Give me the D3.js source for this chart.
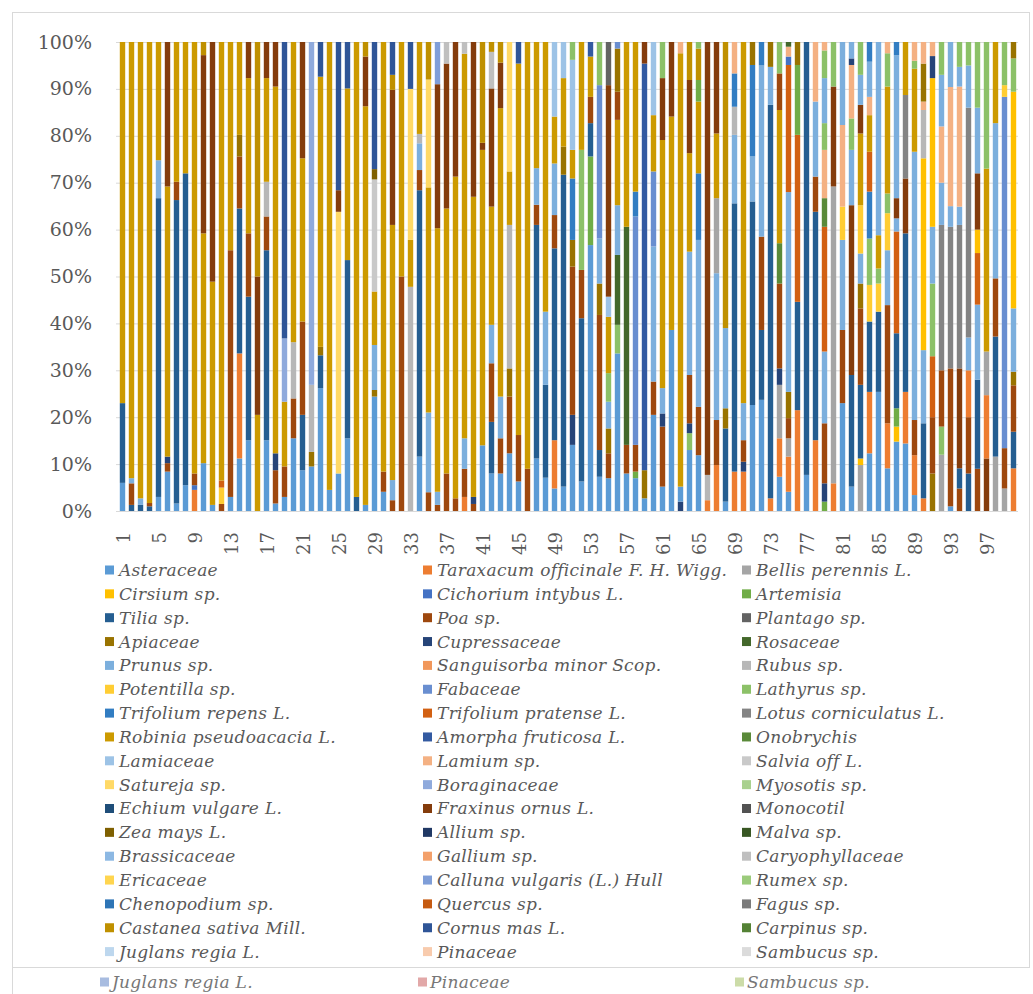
<!DOCTYPE html>
<html>
<head>
<meta charset="utf-8">
<script src="https://cdn.jsdelivr.net/npm/d3@7"></script>
<style>
  body { margin: 0; background: #fff; }
  svg { display: block; }
</style>
</head>
<body>
<svg id="chart" width="1033" height="994"></svg>
<script>
// series, in legend order (index used in the bar stacks below)
const seriesNames = [
  "Asteraceae", "Taraxacum officinale F. H. Wigg.", "Bellis perennis L.",
  "Cirsium sp.", "Cichorium intybus L.", "Artemisia",
  "Tilia sp.", "Poa sp.", "Plantago sp.",
  "Apiaceae", "Cupressaceae", "Rosaceae",
  "Prunus sp.", "Sanguisorba minor Scop.", "Rubus sp.",
  "Potentilla sp.", "Fabaceae", "Lathyrus sp.",
  "Trifolium repens L.", "Trifolium pratense L.", "Lotus corniculatus L.",
  "Robinia pseudoacacia L.", "Amorpha fruticosa L.", "Onobrychis",
  "Lamiaceae", "Lamium sp.", "Salvia off L.",
  "Satureja sp.", "Boraginaceae", "Myosotis sp.",
  "Echium vulgare L.", "Fraxinus ornus L.", "Monocotil",
  "Zea mays L.", "Allium sp.", "Malva sp.",
  "Brassicaceae", "Gallium sp.", "Caryophyllaceae",
  "Ericaceae", "Calluna vulgaris (L.) Hull", "Rumex sp.",
  "Chenopodium sp.", "Quercus sp.", "Fagus sp.",
  "Castanea sativa Mill.", "Cornus mas L.", "Carpinus sp.",
  "Juglans regia L.", "Pinaceae", "Sambucus sp."
];

const seriesColors = [
  "#5B9BD5", "#ED7D31", "#A5A5A5", "#FFC000", "#4472C4", "#70AD47",
  "#255E91", "#9E480E", "#636363", "#997300", "#264478", "#43682B",
  "#7CAFDD", "#F1975A", "#B7B7B7", "#FFCD33", "#698ED0", "#8CC168",
  "#327DC2", "#D26012", "#848484", "#CC9A00", "#335AA1", "#5A8A39",
  "#9DC3E6", "#F4B183", "#C9C9C9", "#FFD966", "#8FAADC", "#A9D18E",
  "#1F4E79", "#843C0C", "#525252", "#7F6000", "#203864", "#385723",
  "#8CB8E3", "#F3A06A", "#BFBFBF", "#FFD54F", "#7F9ED8", "#9BCB7B",
  "#2E75B6", "#C55A11", "#7B7B7B", "#BF9000", "#2F5597", "#548235",
  "#BDD7EE", "#F8CBAD", "#DBDBDB"
];

const yTicks = [0, 10, 20, 30, 40, 50, 60, 70, 80, 90, 100];
const xTickLabels = [1, 5, 9, 13, 17, 21, 25, 29, 33, 37, 41, 45, 49, 53, 57, 61, 65, 69, 73, 77, 81, 85, 89, 93, 97];

// each bar: [series index, percent] from bottom to top
const bars01to25 = [
  [[0,6],[6,17],[21,77]],
  [[6,1.3],[7,4.6],[12,1.1],[21,93]],
  [[6,1.3],[12,1.4],[21,97.3]],
  [[6,1],[7,0.7],[21,98.3]],
  [[0,3],[6,63.7],[12,8.1],[21,25.2]],
  [[0,8.4],[7,1.8],[10,1.4],[21,57.6],[31,30.8]],
  [[0,1.6],[6,64.7],[7,3.9],[21,29.8]],
  [[0,5.5],[6,66.5],[21,28]],
  [[1,4.5],[4,1],[7,2.5],[21,92]],
  [[0,10.2],[21,49],[31,38],[45,2.8]],
  [[0,1.3],[21,47.6],[31,51.1]],
  [[7,1.5],[15,3.5],[19,1.5],[21,93.5]],
  [[0,3],[7,52.6],[21,44.4]],
  [[0,11.2],[1,22.4],[6,30.9],[7,11.1],[9,4.6],[21,19.8]],
  [[0,15.1],[6,30.6],[7,13.5],[21,33.1],[31,7.7]],
  [[21,20.5],[31,29.5],[45,50]],
  [[0,15.1],[6,40.5],[7,7.2],[14,7.4],[21,22.1],[31,7.7]],
  [[0,1.6],[7,7.1],[10,3.6],[21,78.2],[31,9.5]],
  [[0,3],[7,6.5],[21,13.8],[28,13.5],[46,63.2]],
  [[0,15.5],[7,8.5],[14,12],[21,64]],
  [[0,8.7],[6,11.8],[7,19.9],[21,34.8],[31,24.8]],
  [[0,9.5],[9,3.1],[14,14.3],[28,73.1]],
  [[0,26.2],[6,7],[9,1.8],[21,57.6],[46,7.4]],
  [[0,4.5],[21,95.5]],
  [[0,8],[27,55.8],[31,4.6],[46,31.6]]
];

const bars26to50 = [
  [[0,15.5],[6,38],[21,36.6],[46,9.9]],
  [[6,3],[21,97]],
  [[0,1.3],[21,85],[31,10.6],[45,3.1]],
  [[0,24.4],[9,1.4],[12,9.6],[21,11.4],[26,23.9],[33,2.2],[46,27.1]],
  [[0,4.1],[7,4.3],[21,91.6]],
  [[7,2.3],[12,4.3],[21,54.4],[31,28.8],[45,3.2],[46,7]],
  [[7,50],[21,50]],
  [[14,47.8],[21,10],[27,32.2],[46,10]],
  [[0,11.6],[6,56.8],[7,4.3],[12,5.7],[14,2],[21,19.6]],
  [[7,4],[12,17],[21,48],[27,23],[45,8]],
  [[7,1.3],[12,2.8],[21,56.2],[31,30.7],[40,9]],
  [[7,8],[21,56.5],[31,30.9],[38,4.6]],
  [[7,2.7],[21,68.6],[31,28.7]],
  [[1,3],[7,6],[12,6.5],[21,82],[38,2.5]],
  [[7,1.5],[10,1.5],[21,64],[31,33]],
  [[0,14],[21,63],[31,1.5],[45,21.5]],
  [[0,8],[6,11],[7,12.5],[12,8.2],[21,25.2],[31,25.2],[38,7.8],[45,2.1]],
  [[0,8],[7,7.5],[12,8.9],[21,61.5],[31,9.7],[45,4.4]],
  [[0,12.3],[7,12.1],[9,6],[14,30.6],[21,11.4],[27,27.6]],
  [[0,6.3],[7,9.9],[21,79.2],[46,4.6]],
  [[7,9],[21,91]],
  [[0,11.2],[6,49.8],[7,4.3],[12,7.8],[21,26.9]],
  [[0,7.1],[6,19.8],[12,15.6],[21,57.5]],
  [[0,4.8],[1,10.3],[6,40.9],[7,7.1],[12,11],[21,10],[24,15.9]],
  [[0,5.2],[6,66.5],[9,6],[21,14.6],[24,7.7]]
];

const bars51to75 = [
  [[0,14.1],[10,6.4],[7,31.6],[9,5.7],[18,13.1],[21,6.1],[24,19.2],[17,3.8]],
  [[0,6.3],[6,34.8],[7,10.3],[17,25.6],[21,23]],
  [[0,56.7],[5,18.9],[6,7.1],[7,5.6],[21,8.6],[22,3.1]],
  [[0,7.3],[6,5.7],[7,28.8],[9,6.7],[12,9.6],[16,32.7],[17,9.2]],
  [[0,7],[7,5.3],[9,5.3],[12,5.7],[17,6.1],[21,12],[24,4.3],[31,45.1],[8,9.2]],
  [[0,33.6],[17,6.1],[11,14.9],[12,10.6],[21,18.2],[7,6],[9,9.2],[16,1.4]],
  [[0,8],[7,6.1],[11,46.5],[21,39.4]],
  [[0,7],[5,1.4],[7,5.7],[16,48.7],[18,5.3],[21,31.9]],
  [[0,2.7],[9,6],[22,86.7],[31,4.6]],
  [[0,20.5],[7,7.1],[12,28.8],[16,16],[21,12],[24,15.6]],
  [[0,5.2],[7,12.8],[10,2.8],[12,5.4],[21,52.9],[31,13.2],[17,7.7]],
  [[0,38.6],[21,45.5],[31,15.9]],
  [[10,2],[0,3.2],[21,92.4],[25,2.4]],
  [[0,13],[17,3.6],[10,2.1],[7,10.3],[12,26.3],[21,21],[31,15.6],[45,8.1]],
  [[0,11.9],[7,10.3],[12,35.6],[18,14.2],[21,15.3],[5,4.6],[45,6.7],[17,1.4]],
  [[1,2.3],[14,5.4],[31,92.3]],
  [[1,9.8],[7,9.6],[12,31.3],[2,16],[21,13.8],[31,19.5]],
  [[0,2],[6,15.6],[9,4.3],[12,17.1],[45,61]],
  [[1,8.4],[6,57.2],[12,14.6],[14,6],[18,7.1],[25,6.7]],
  [[1,8.4],[10,2.1],[7,4.6],[12,7.9],[21,77]],
  [[0,22.6],[6,43.4],[12,9.6],[18,19.5],[9,4.9]],
  [[0,23.7],[6,14.9],[7,19.9],[12,36.5],[18,5]],
  [[1,2.7],[6,83.9],[12,8.1],[9,5.3]],
  [[0,7.3],[1,8.2],[2,11.4],[10,3.5],[7,18.1],[23,8.6],[21,28.4],[7,7.8],[17,6.7]],
  [[0,4.1],[1,7.5],[2,3.9],[7,4.3],[9,5.6],[12,42.6],[19,27.1],[4,1.8],[25,2.1],[11,1]]
];

const bars76to100 = [
  [[1,21.5],[6,23.1],[19,35.6],[5,14.9],[9,4.9]],
  [[0,7.7],[6,92.3]],
  [[1,15.1],[6,48.7],[7,7.5],[12,16],[25,12.7]],
  [[5,2],[10,3.9],[7,12.8],[12,15.3],[19,26.6],[23,6.1],[25,10.3],[17,5.7],[12,9.6],[17,5.9],[25,1.8]],
  [[1,5.9],[2,63.3],[31,21.3],[17,9.5]],
  [[0,23],[7,15.6],[12,19.2],[15,7.1],[25,17.4],[12,17.7]],
  [[0,5.2],[6,23.8],[31,36.2],[12,11.8],[17,6.7],[25,11.4],[10,1.4],[12,3.5]],
  [[2,9.8],[3,1.4],[6,15.7],[7,16.3],[9,5.3],[12,6.4],[15,10.3],[21,15.3],[31,6.1],[12,6.4],[17,7]],
  [[0,12.3],[1,13.1],[6,15],[15,7.8],[17,9.9],[18,10],[19,8.5],[21,7.8],[25,3.9],[12,7.5],[18,4.2]],
  [[0,25.4],[6,17.1],[15,6],[17,3.2],[21,7.1],[12,41.2]],
  [[0,9.1],[1,9.6],[7,25.2],[12,11.7],[15,7.9],[17,4.2],[21,22.8],[17,7.1],[25,2.4]],
  [[0,14.8],[3,3.2],[5,3.9],[6,16],[19,21.7],[12,2.8],[31,4.3],[12,30.5],[18,2.8]],
  [[0,14.4],[1,11],[6,33.8],[31,11.7],[20,17.8],[21,11.3]],
  [[0,3.4],[1,8.5],[7,7.5],[12,57.2],[21,17.7],[17,1.7],[25,4]],
  [[1,2.7],[6,16],[12,15.6],[3,40.9],[14,10.3],[25,1.8],[9,8.1],[25,4.6]],
  [[9,8],[7,12],[19,13],[17,15.5],[12,12.1],[3,31.7],[10,4.7],[25,3]],
  [[2,12],[17,6],[7,12],[20,31],[12,9],[25,12],[12,11],[17,7]],
  [[0,1],[7,29.4],[20,30.2],[12,4.4],[25,25.4],[12,9.6]],
  [[7,4.8],[6,4.3],[31,21.3],[20,30.6],[12,3.9],[25,25.6],[12,4.2],[17,5.3]],
  [[6,8],[7,12],[1,10],[12,7],[20,49],[12,9],[17,5]],
  [[7,9],[6,19],[12,16],[19,11],[3,5],[31,12],[12,14],[17,14]],
  [[31,11.2],[1,13.5],[2,9.3],[21,39],[17,27]],
  [[2,11.6],[6,25.6],[7,12.4],[12,33.1],[21,17.3]],
  [[2,4.8],[7,8.6],[16,74.9],[15,2.5],[17,9.2]],
  [[1,9.1],[6,7.8],[7,9.9],[9,2.9],[12,13.5],[3,46.2],[17,7.1],[9,3.5]]
];

// stray legend row left below the frame in the picture
const extraLegendNames = ["Juglans regia L.", "Pinaceae", "Sambucus sp."];
const extraLegendColors = ["#A8BCE0", "#E2A8A8", "#CCDCA8"];

const bars = [].concat(bars01to25, bars26to50, bars51to75, bars76to100);
const barIds = bars.map((d, i) => i + 1);

const svg = d3.select('#chart');
const plotLeft = 116, plotRight = 1018, plotTop = 42, plotBottom = 511;
const textColor = "#595959";
const serif = "'DejaVu Serif', serif";

// frame
svg.append("rect")
  .attr("x", 12.5).attr("y", 12.5)
  .attr("width", 1017).attr("height", 955)
  .attr("fill", "none").attr("stroke", "#d9d9d9");
svg.append("line")
  .attr("x1", 12.5).attr("x2", 12.5).attr("y1", 967).attr("y2", 994)
  .attr("stroke", "#d9d9d9");

const x = d3.scaleBand()
  .domain(barIds)
  .range([118, 1018])
  .paddingInner(0.4)
  .paddingOuter(0.2);

const y = d3.scaleLinear()
  .domain([0, 100])
  .range([plotBottom, plotTop]);

// gridlines + y labels
const yAxis = svg.append("g")
  .attr("transform", "translate(" + plotLeft + ",0)")
  .call(d3.axisLeft(y)
    .tickValues(yTicks)
    .tickSize(-(plotRight - plotLeft))
    .tickPadding(24)
    .tickFormat(d => d + "%"));
yAxis.select(".domain").remove();
yAxis.selectAll(".tick line").attr("stroke", "#d9d9d9");
yAxis.selectAll("text")
  .attr("fill", textColor)
  .style("font-family", serif)
  .style("font-size", "19px");

// stacked segments, normalised to 100%
const segments = [];
bars.forEach((stack, i) => {
  const total = d3.sum(stack, s => s[1]);
  let acc = 0;
  stack.forEach(s => {
    const y0 = acc / total * 100;
    acc += s[1];
    segments.push({ bar: barIds[i], key: s[0], y0: y0, y1: acc / total * 100 });
  });
});

svg.append("g")
  .selectAll("rect")
  .data(segments)
  .enter()
  .append("rect")
  .attr("x", d => x(d.bar))
  .attr("width", x.bandwidth())
  .attr("y", d => y(d.y1))
  .attr("height", d => y(d.y0) - y(d.y1))
  .attr("fill", d => seriesColors[d.key]);

// x labels, rotated
const xAxis = svg.append("g")
  .attr("transform", "translate(1.5,532)")
  .call(d3.axisBottom(x).tickValues(xTickLabels).tickSize(0).tickPadding(0));
xAxis.select(".domain").remove();
xAxis.selectAll("text")
  .attr("y", 0)
  .attr("dy", "0.35em")
  .attr("transform", "rotate(-90)")
  .style("text-anchor", "end")
  .attr("fill", textColor)
  .style("font-family", serif)
  .style("font-size", "18px");

// legend, 3 columns row-major
const legendCols = [105, 423, 742];
const legendTop = 570, legendStep = 23.85;
const legend = svg.append("g")
  .selectAll("g")
  .data(seriesNames)
  .enter()
  .append("g")
  .attr("transform", (d, i) => "translate(" + legendCols[i % 3] + "," + (legendTop + Math.floor(i / 3) * legendStep) + ")");
legend.append("rect")
  .attr("x", 0).attr("y", -4.5)
  .attr("width", 9).attr("height", 9)
  .attr("fill", (d, i) => seriesColors[i]);
legend.append("text")
  .attr("x", 14)
  .attr("dy", "0.35em")
  .attr("fill", textColor)
  .style("font-family", serif)
  .style("font-style", "italic")
  .style("font-size", "17px")
  .style("letter-spacing", "0.3px")
  .text(d => d);

const extra = svg.append("g")
  .selectAll("g")
  .data(extraLegendNames)
  .enter()
  .append("g")
  .attr("transform", (d, i) => "translate(" + [100, 418, 735][i] + ",982)");
extra.append("rect")
  .attr("x", 0).attr("y", -4.5)
  .attr("width", 9).attr("height", 9)
  .attr("fill", (d, i) => extraLegendColors[i]);
extra.append("text")
  .attr("x", 12)
  .attr("dy", "0.35em")
  .attr("fill", "#777")
  .style("font-family", serif)
  .style("font-style", "italic")
  .style("font-size", "17px")
  .style("letter-spacing", "0.3px")
  .text(d => d);
</script>
</body>
</html>
